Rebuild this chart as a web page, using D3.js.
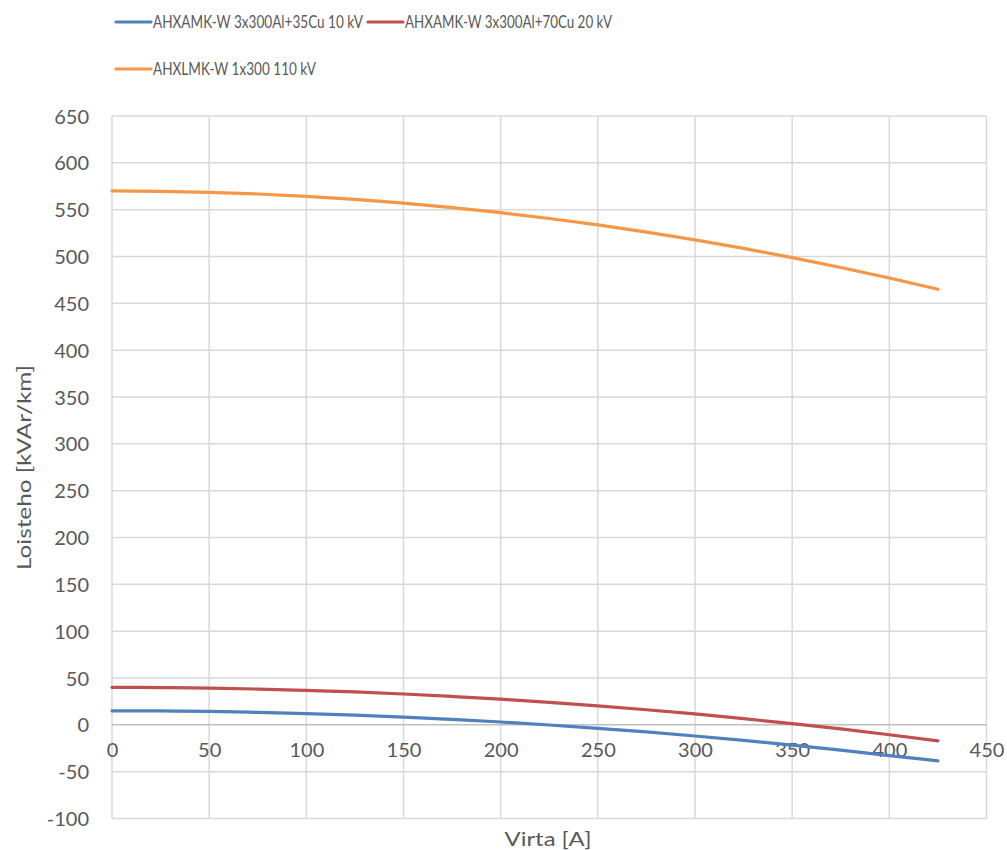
<!DOCTYPE html>
<html><head><meta charset="utf-8">
<script src="https://cdn.jsdelivr.net/npm/d3@7"></script>
<style>body{margin:0;background:#fff}svg{display:block}text{font-family:Lato,"Open Sans",sans-serif;fill:#595959}</style>
</head><body>
<script>
const current = [0,25,50,75,100,125,150,175,200,225,250,275,300,325,350,375,400,425];
const blueVals = [15,14.8,14.3,13.3,12,10.3,8.3,5.8,3,-0.2,-3.7,-7.6,-11.9,-16.6,-21.6,-27,-32.8,-38.5];
const redVals = [40,39.8,39.2,38.2,36.8,35.1,32.9,30.3,27.4,24,20.3,16.1,11.6,6.6,1.3,-4.4,-10.6,-17.1];
const orangeVals = [570,569.6,568.5,566.7,564.2,560.9,556.9,552.2,546.8,540.6,533.7,526.1,517.7,508.6,498.8,488.3,477,465];
const seriesNames = ["AHXAMK-W 3x300Al+35Cu 10 kV","AHXAMK-W 3x300Al+70Cu 20 kV","AHXLMK-W 1x300 110 kV"];
const seriesColors = ["#4f81bd","#c0504d","#f79646"];
const xTicks = [0,50,100,150,200,250,300,350,400,450];
const yTicks = [-100,-50,0,50,100,150,200,250,300,350,400,450,500,550,600,650];
const xTitle = "Virta [A]", yTitle = "Loisteho [kVAr/km]";

const W=1007,H=850;
const svg=d3.select("body").append("svg").attr("width",W).attr("height",H);
const x=d3.scaleLinear().domain([0,450]).range([112,986.5]);
const y=d3.scaleLinear().domain([-100,650]).range([818.5,116]);

// grid
svg.append("g").selectAll("line").data(yTicks.filter(d=>d!==0)).join("line")
 .attr("x1",x(0)).attr("x2",x(450)).attr("y1",d=>y(d)).attr("y2",d=>y(d))
 .attr("stroke","#d9d9d9").attr("stroke-width",1.5);
svg.append("g").selectAll("line").data(xTicks).join("line")
 .attr("y1",y(-100)).attr("y2",y(650)).attr("x1",d=>x(d)).attr("x2",d=>x(d))
 .attr("stroke","#d9d9d9").attr("stroke-width",1.5);
svg.append("line").attr("x1",x(0)).attr("x2",x(450)).attr("y1",y(0)).attr("y2",y(0)).attr("stroke","#bfbfbf").attr("stroke-width",1.5);

// axes labels
const yAxis=d3.axisLeft(y).tickValues(yTicks).tickFormat(d=>String(d)).tickSize(0).tickPadding(0);
const ga=svg.append("g").attr("transform","translate(89,0)").call(yAxis);
ga.select(".domain").remove();
ga.selectAll("text").style("font-size","20px").attr("fill","#595959").attr("dy","0.35em");
const xAxis=d3.axisBottom(x).tickValues(xTicks).tickFormat(d=>String(d)).tickSize(0).tickPadding(0);
const gx=svg.append("g").attr("transform",`translate(0,${y(0)+18})`).call(xAxis);
gx.select(".domain").remove();
gx.selectAll("text").style("font-size","20px").attr("fill","#595959").attr("dy","0.7em");

svg.append("text").attr("x",548).attr("y",846).attr("text-anchor","middle").style("font-size","20px")
 .attr("textLength",87).attr("lengthAdjust","spacingAndGlyphs").text(xTitle);
svg.append("text").attr("transform",`translate(31,467.5) rotate(-90)`).attr("text-anchor","middle").style("font-size","20px")
 .attr("textLength",205).attr("lengthAdjust","spacingAndGlyphs").text(yTitle);

// lines
const all=[blueVals,redVals,orangeVals];
const line=d3.line().x((d,i)=>x(current[i])).y(d=>y(d)).curve(d3.curveMonotoneX);
all.forEach((vals,k)=>{
  svg.append("path").datum(vals).attr("d",line).attr("fill","none")
   .attr("stroke",seriesColors[k]).attr("stroke-width",3.2).attr("stroke-linecap","round");
});

// legend
const leg=[{x:116,y:22,w:210},{x:368,y:22,w:207},{x:116,y:69,w:163}];
leg.forEach((p,k)=>{
  svg.append("line").attr("x1",p.x).attr("x2",p.x+35).attr("y1",p.y).attr("y2",p.y)
   .attr("stroke",seriesColors[k]).attr("stroke-width",3.2).attr("stroke-linecap","round");
  svg.append("text").attr("x",p.x+37).attr("y",p.y).attr("dy","0.35em").style("font-size","18px")
   .attr("textLength",p.w).attr("lengthAdjust","spacingAndGlyphs").text(seriesNames[k]);
});
</script>
</body></html>
